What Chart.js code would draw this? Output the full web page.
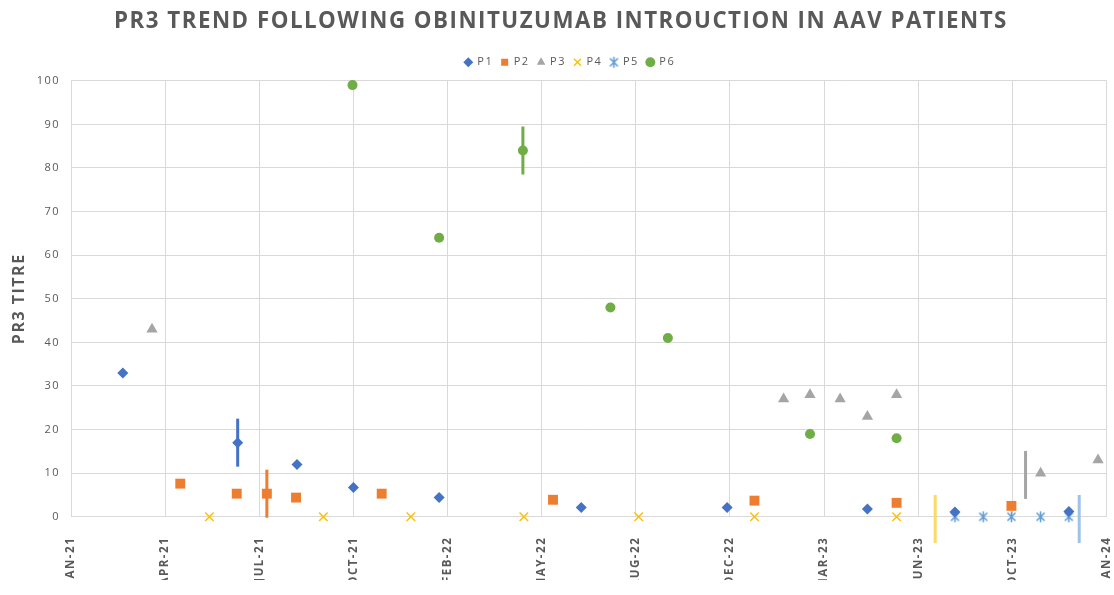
<!DOCTYPE html>
<html>
<head>
<meta charset="utf-8">
<title>PR3 trend</title>
<script src="https://cdn.jsdelivr.net/npm/chart.js@4.4.1/dist/chart.umd.min.js"></script>
<style>
  html, body { margin: 0; padding: 0; background: #fff; overflow: hidden; }
  #wrap { position: relative; width: 1114px; height: 610px; }
</style>
</head>
<body>
<div id="wrap"><canvas id="chart"></canvas></div>
<script>
// x positions are in axis steps (0 = JAN-21, 11 = JAN-24)
const tickLabels = ['JAN-21', 'APR-21', 'JUL-21', 'OCT-21', 'FEB-22', 'MAY-22',
                    'AUG-22', 'DEC-22', 'MAR-23', 'JUN-23', 'OCT-23', 'JAN-24'];

const p1X = [0.55, 1.77, 2.40, 3.00, 3.91, 5.42, 6.97, 8.46, 9.39, 10.60];
const p1Y = [33, 17, 12, 6.7, 4.4, 2.1, 2.1, 1.8, 1.1, 1.2];

const p2X = [1.16, 1.76, 2.08, 2.39, 3.30, 5.12, 7.26, 8.77, 9.99];
const p2Y = [7.6, 5.3, 5.3, 4.4, 5.3, 3.9, 3.7, 3.2, 2.5];

const p3X = [0.86, 7.57, 7.85, 8.17, 8.46, 8.77, 10.30, 10.91];
const p3Y = [43, 27, 28, 27, 23, 28, 10, 13];

const p4X = [1.47, 2.68, 3.61, 4.81, 6.03, 7.26, 8.77];
const p4Y = [0, 0, 0, 0, 0, 0, 0];

const p5X = [9.39, 9.69, 9.99, 10.30, 10.60];
const p5Y = [0, 0, 0, 0, 0];

const p6X = [2.99, 3.91, 4.80, 5.73, 6.34, 7.85, 8.77];
const p6Y = [99, 64, 84, 48, 41, 19, 18];

// vertical range bars: owner series, position, centre value, half length
const rangeSeries = ['P1', 'P2', 'P6', 'P4', 'P3', 'P5'];
const rangeX = [1.77, 2.08, 4.80, 9.18, 10.14, 10.71];
const rangeY = [17, 5.3, 84, -0.5, 9.6, -0.5];
const rangeHalf = [5.5, 5.5, 5.5, 5.5, 5.5, 5.5];

const colors = {
  P1: '#4472C4', P2: '#ED7D31', P3: '#A5A5A5',
  P4: '#FFC000', P5: '#5B9BD5', P6: '#70AD47'
};
const rangeColors = {
  P1: '#4472C4', P2: '#ED7D31', P3: '#A5A5A5',
  P4: '#FFD966', P5: '#9DC3E6', P6: '#70AD47'
};

// Excel style star: an X with a vertical stroke through it
function starMarker(color) {
  const c = document.createElement('canvas');
  c.width = 13; c.height = 13;
  const g = c.getContext('2d');
  g.strokeStyle = color;
  g.lineWidth = 1.5;
  g.beginPath();
  g.moveTo(2.5, 2.5); g.lineTo(10.5, 10.5);
  g.moveTo(10.5, 2.5); g.lineTo(2.5, 10.5);
  g.moveTo(6.5, 1); g.lineTo(6.5, 12);
  g.stroke();
  return c;
}

function pts(xs, ys) {
  return xs.map((x, i) => ({ x: x, y: ys[i] }));
}

const series = [
  { label: 'P1', data: pts(p1X, p1Y), pointStyle: 'rectRot', pointRadius: 5.5 },
  { label: 'P2', data: pts(p2X, p2Y), pointStyle: 'rect', pointRadius: 7 },
  { label: 'P3', data: pts(p3X, p3Y), pointStyle: 'triangle', pointRadius: 6.5 },
  { label: 'P4', data: pts(p4X, p4Y), pointStyle: 'crossRot', pointRadius: 6, pointBorderWidth: 1.5 },
  { label: 'P5', data: pts(p5X, p5Y), pointStyle: starMarker(colors.P5), pointRadius: 6 },
  { label: 'P6', data: pts(p6X, p6Y), pointStyle: 'circle', pointRadius: 5 }
].map(s => Object.assign({
  backgroundColor: colors[s.label],
  borderColor: colors[s.label],
  pointBorderWidth: 0,
  clip: false
}, s));

const ranges = rangeX.map((x, i) => ({
  label: rangeSeries[i] + ' range',
  data: [{ x: x, y: rangeY[i] - rangeHalf[i] }, { x: x, y: rangeY[i] + rangeHalf[i] }],
  showLine: true,
  borderColor: rangeColors[rangeSeries[i]],
  borderWidth: 3,
  pointRadius: 0,
  clip: false
}));

// wider letter spacing for all chart text
const spacing = {
  id: 'spacing',
  beforeDraw(chart) { chart.ctx.letterSpacing = '1.5px'; }
};

// a little extra room under the legend
const legendGap = {
  id: 'legendGap',
  beforeInit(chart) {
    const fit = chart.legend.fit;
    chart.legend.fit = function () {
      fit.call(this);
      this.height += 3;
    };
  }
};

const grey = '#595959';

new Chart(document.getElementById('chart'), {
  type: 'scatter',
  data: { datasets: series.concat(ranges) },
  plugins: [spacing, legendGap],
  options: {
    responsive: true,
    maintainAspectRatio: false,
    animation: false,
    layout: { padding: { left: 8, right: 0, top: 0, bottom: 30 } },
    plugins: {
      title: {
        display: true,
        text: 'PR3 TREND FOLLOWING OBINITUZUMAB INTROUCTION IN AAV PATIENTS',
        color: grey,
        font: { family: 'Open Sans', size: 22.3, weight: 'bold' },
        padding: { top: 8, bottom: 14 }
      },
      legend: {
        display: true,
        position: 'top',
        labels: {
          filter: item => item.datasetIndex < 6,
          usePointStyle: true,
          boxWidth: 7,
          boxHeight: 7,
          padding: 8,
          color: grey,
          font: { family: 'Open Sans', size: 11 }
        }
      },
      tooltip: { enabled: false }
    },
    scales: {
      x: {
        type: 'linear',
        min: 0,
        max: 11,
        grid: { color: '#d9d9d9', drawTicks: true, tickLength: 20, tickColor: 'rgba(0,0,0,0)' },
        border: { color: '#d9d9d9' },
        ticks: {
          stepSize: 1,
          autoSkip: false,
          minRotation: 90,
          maxRotation: 90,
          padding: 0,
          color: grey,
          font: { family: 'Open Sans', size: 11.5, weight: 'bold', lineHeight: 0.1 },
          callback: v => tickLabels[v]
        }
      },
      y: {
        min: 0,
        max: 100,
        grid: { color: '#d9d9d9', drawTicks: false },
        border: { color: '#d9d9d9' },
        title: {
          display: true,
          text: 'PR3 TITRE',
          color: grey,
          font: { family: 'Open Sans', size: 16, weight: 'bold' },
          padding: 1.5
        },
        ticks: {
          stepSize: 10,
          padding: 11,
          color: grey,
          font: { family: 'Open Sans', size: 11 }
        }
      }
    }
  }
});
</script>
</body>
</html>
